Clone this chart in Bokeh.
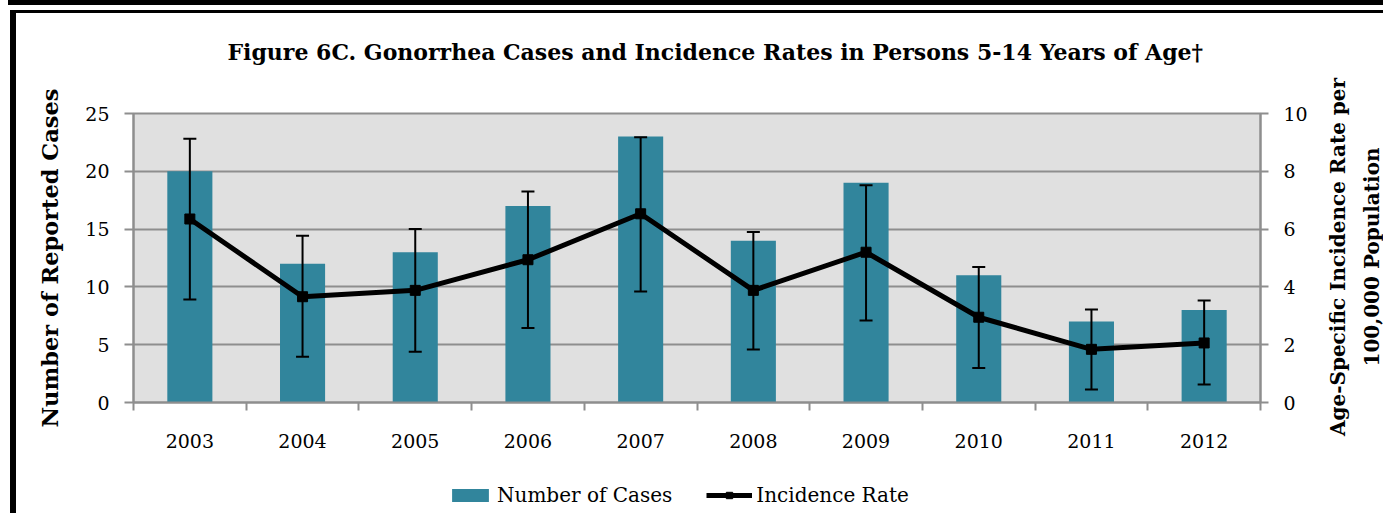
from bokeh.plotting import figure
from bokeh.layouts import column, row
from bokeh.models import (Range1d, LinearAxis, FixedTicker, Whisker, ColumnDataSource,
                          Legend, LegendItem, TeeHead)
from bokeh.embed import file_html
from bokeh.resources import INLINE

# ---- data ----
years = [2003, 2004, 2005, 2006, 2007, 2008, 2009, 2010, 2011, 2012]
year_labels = ["2003", "2004", "2005", "2006", "2007", "2008", "2009", "2010", "2011", "2012"]
cases = [20, 12, 13, 17, 23, 14, 19, 11, 7, 8]
rate = [6.35, 3.66, 3.88, 4.94, 6.53, 3.88, 5.2, 2.95, 1.84, 2.06]
rate_lower = [3.56, 1.58, 1.76, 2.58, 3.84, 1.83, 2.84, 1.19, 0.45, 0.62]
rate_upper = [9.13, 5.77, 6.0, 7.3, 9.18, 5.9, 7.52, 4.69, 3.22, 3.53]
left_ticks = [0, 5, 10, 15, 20, 25]
right_ticks = [0, 2, 4, 6, 8, 10]

FONT = "DejaVu Serif"
BAR = "#31859C"
GRID = "#8E8E8E"
W_MAIN = 1322
W_RLAB = 61
H_MAIN = 460
H_LEG = 53
NAN = float("nan")

src = ColumnDataSource(dict(year=years, cases=cases, rate=rate,
                            lower=rate_lower, upper=rate_upper))

p = figure(width=W_MAIN, height=H_MAIN, output_backend="svg", toolbar_location=None,
           x_range=Range1d(years[0] - 0.5, years[-1] + 0.5), y_range=Range1d(0, 25),
           min_border_left=133, min_border_right=W_MAIN - 1260, min_border_top=113,
           min_border_bottom=58,
           title="Figure 6C. Gonorrhea Cases and Incidence Rates in Persons 5-14 Years of Age\u2020\n\u00a0")
p.extra_y_ranges = {"rate": Range1d(0, 10)}

p.background_fill_color = "#E0E0E0"
p.border_fill_color = None
p.outline_line_color = GRID
p.outline_line_width = 2

p.title.text_font = FONT
p.title.text_font_size = "22px"
p.title.text_font_style = "bold"
p.title.align = "left"
p.title.offset = 94
p.title.text_color = "black"
p.title.standoff = 46

# bars
bars = p.vbar(x="year", top="cases", width=0.4, source=src, fill_color=BAR,
              line_color=None)

# error bars
wh = Whisker(base="year", upper="upper", lower="lower", source=src,
             y_range_name="rate", line_color="black", line_width=2, level="overlay",
             upper_head=TeeHead(size=13, line_width=2, line_color="black"),
             lower_head=TeeHead(size=13, line_width=2, line_color="black"))
p.add_layout(wh)

ln = p.line(x="year", y="rate", source=src, y_range_name="rate", line_color="black",
            line_width=5)
mk = p.scatter(x="year", y="rate", source=src, y_range_name="rate", marker="square",
               size=10, fill_color="black", line_color="black")

# x axis
xa = p.xaxis[0]
xa.ticker = FixedTicker(ticks=years, minor_ticks=[y - 0.5 for y in years] + [years[-1] + 0.5])
xa.major_label_overrides = {y: l for y, l in zip(years, year_labels)}
xa.major_tick_out = 0
xa.major_tick_in = 0
xa.minor_tick_out = 8
xa.minor_tick_in = 0
xa.minor_tick_line_color = GRID
xa.minor_tick_line_width = 2
xa.axis_line_color = GRID
xa.axis_line_width = 2
xa.major_label_text_font = FONT
xa.major_label_text_font_size = "19px"
xa.major_label_text_color = "black"
xa.major_label_standoff = 23

# left axis
ya = p.yaxis[0]
ya.ticker = FixedTicker(ticks=left_ticks)
ya.axis_label = "Number of Reported Cases"
ya.axis_label_text_font = FONT
ya.axis_label_text_font_size = "22.5px"
ya.axis_label_text_font_style = "bold"
ya.axis_label_text_color = "black"
ya.axis_label_standoff = 19
ya.major_label_text_font = FONT
ya.major_label_text_font_size = "19px"
ya.major_label_text_color = "black"
ya.major_label_standoff = 15
ya.major_tick_out = 9
ya.major_tick_in = 0
ya.minor_tick_out = 0
ya.minor_tick_in = 0
ya.major_tick_line_color = GRID
ya.major_tick_line_width = 2
ya.axis_line_color = GRID
ya.axis_line_width = 2

# right axis (rate)
ra = LinearAxis(y_range_name="rate", ticker=FixedTicker(ticks=right_ticks))
ra.major_label_text_font = FONT
ra.major_label_text_font_size = "19px"
ra.major_label_text_color = "black"
ra.major_label_standoff = 15
ra.major_tick_out = 8
ra.major_tick_in = 0
ra.minor_tick_out = 0
ra.minor_tick_in = 0
ra.major_tick_line_color = GRID
ra.major_tick_line_width = 2
ra.axis_line_color = GRID
ra.axis_line_width = 2
p.add_layout(ra, "right")

p.xgrid.grid_line_color = None
p.ygrid.grid_line_color = GRID
p.ygrid.grid_line_width = 2
p.ygrid.ticker = FixedTicker(ticks=left_ticks)

# legend strip below the chart (its frame is aligned with the chart's frame)
q = figure(width=W_MAIN, height=H_LEG, output_backend="svg", toolbar_location=None,
           x_axis_type=None, y_axis_type=None, min_border=0,
           x_range=Range1d(0, 1), y_range=Range1d(0, 1))
q.outline_line_color = None
q.grid.visible = False
q.background_fill_color = None
q.border_fill_color = None
# legend proxies with missing values, so that only their legend swatches show
lb = q.vbar(x=[0.5], top=[NAN], width=0.4, fill_color=BAR, line_color=None)
ll = q.line(x=[0.4, 0.6], y=[NAN, NAN], line_color="black", line_width=5)
lm = q.scatter(x=[0.5], y=[NAN], marker="square", size=10, fill_color="black",
               line_color="black")
legend = Legend(items=[LegendItem(label="Number of Cases", renderers=[lb]),
                       LegendItem(label="Incidence Rate", renderers=[ll, lm])],
                orientation="horizontal", location=(314, 6))
legend.label_text_font = FONT
legend.label_text_font_size = "20px"
legend.label_text_color = "black"
legend.glyph_width = 46
legend.glyph_height = 16
legend.label_height = 24
legend.label_standoff = 4
legend.spacing = 34
legend.padding = 0
legend.margin = 0
legend.border_line_color = None
legend.background_fill_alpha = 0
q.add_layout(legend)

# right-hand title of the rate axis (reads bottom to top)
r = figure(width=W_RLAB, height=H_MAIN + H_LEG, output_backend="svg",
           toolbar_location=None, x_axis_type=None, min_border=0,
           x_range=Range1d(0, 1), y_range=Range1d(0, 1))
r.outline_line_color = None
r.grid.visible = False
r.background_fill_color = None
r.border_fill_color = None
rl = r.yaxis[0]
rl.ticker = FixedTicker(ticks=[])
rl.major_tick_out = 0
rl.major_tick_in = 0
rl.minor_tick_out = 0
rl.minor_tick_in = 0
rl.axis_line_color = None
rl.axis_label = "Age-Specific Incidence Rate per\n100,000 Population"
rl.axis_label_text_font = FONT
rl.axis_label_text_font_size = "20px"
rl.axis_label_text_font_style = "bold"
rl.axis_label_text_color = "black"
rl.axis_label_text_line_height = 1.4
rl.axis_label_standoff = 0

layout = row(column(p, q, spacing=0), r, spacing=0)
# page frame of the source document: thick rule on top, box edge at top and left
layout.styles = {
    "background-color": "white",
    "background-image": "linear-gradient(#000,#000), linear-gradient(#000,#000), "
                        "linear-gradient(#000,#000)",
    "background-position": "8px 0px, 10px 10px, 10px 10px",
    "background-size": "1391px 5px, 1389px 3px, 6px 519px",
    "background-repeat": "no-repeat",
}
open("out.html", "w").write(file_html(layout, INLINE))
